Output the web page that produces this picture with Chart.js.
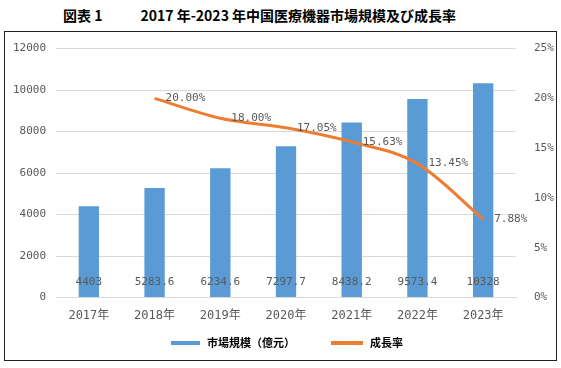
<!DOCTYPE html>
<html>
<head>
<meta charset="utf-8">
<script src="https://cdn.jsdelivr.net/npm/chart.js@4.4.1/dist/chart.umd.min.js"></script>
<style>
  body { margin: 0; background: #fff; width: 561px; height: 368px; position: relative; overflow: hidden; }
  #title { position: absolute; left: 63px; top: 5px; font-family: "Noto Sans CJK JP", sans-serif; font-weight: bold; font-size: 14px; color: #000; white-space: nowrap; }
  #title .gap { display: inline-block; width: 38px; }
  #box { position: absolute; left: 4px; top: 31px; width: 551px; height: 328px; border: 1px solid #222; }
  #box canvas { display: block; }
  .leg { position: absolute; top: 302px; font-family: "Noto Sans CJK JP", sans-serif; font-size: 11px; font-weight: bold; color: #000; white-space: nowrap; }
  .leg i { display: inline-block; width: 29px; height: 4px; vertical-align: middle; margin-right: 7px; position: relative; top: -1px; }
</style>
</head>
<body>
<div id="title">図表 1<span class="gap"></span>2017 年-2023 年中国医療機器市場規模及び成長率</div>
<div id="box">
  <canvas id="chart" width="551" height="328"></canvas>
  <div class="leg" style="left:166px"><i style="background:#5B9BD5"></i>市場規模（億元）</div>
  <div class="leg" style="left:326px"><i style="background:#ED7D31;width:32px"></i>成長率</div>
</div>
<script>
const categories = ['2017年', '2018年', '2019年', '2020年', '2021年', '2022年', '2023年'];
const marketSize = [4403, 5283.6, 6234.6, 7297.7, 8438.2, 9573.4, 10328];
const marketLabels = ['4403', '5283.6', '6234.6', '7297.7', '8438.2', '9573.4', '10328'];
const growthRate = [null, 20.00, 18.00, 17.05, 15.63, 13.45, 7.88];
const growthLabels = ['', '20.00%', '18.00%', '17.05%', '15.63%', '13.45%', '7.88%'];

const BLUE = '#5B9BD5';
const ORANGE = '#ED7D31';
const TEXT = '#595959';
const MONO = '"DejaVu Sans Mono", "Noto Sans CJK SC", monospace';

const valueLabels = {
  id: 'valueLabels',
  afterDatasetsDraw(chart) {
    const c = chart.ctx;
    const y0 = chart.scales.y.getPixelForValue(0);
    c.save();
    c.font = '11px ' + MONO;
    c.fillStyle = TEXT;
    c.textBaseline = 'middle';
    c.textAlign = 'center';
    chart.getDatasetMeta(0).data.forEach((bar, i) => {
      c.fillText(marketLabels[i], bar.x, y0 - 15);
    });
    c.textAlign = 'left';
    chart.getDatasetMeta(1).data.forEach((pt, i) => {
      if (growthRate[i] == null) return;
      c.fillText(growthLabels[i], pt.x + 11, pt.y);
    });
    c.restore();
  }
};

new Chart(document.getElementById('chart').getContext('2d'), {
  data: {
    labels: categories,
    datasets: [
      {
        type: 'bar',
        label: '市場規模（億元）',
        data: marketSize,
        backgroundColor: BLUE,
        borderWidth: 0,
        yAxisID: 'y',
        categoryPercentage: 1,
        barPercentage: 0.31,
        order: 2
      },
      {
        type: 'line',
        label: '成長率',
        data: growthRate,
        borderColor: ORANGE,
        backgroundColor: ORANGE,
        borderWidth: 3,
        pointRadius: 0,
        cubicInterpolationMode: 'monotone',
        yAxisID: 'y1',
        order: 1
      }
    ]
  },
  options: {
    responsive: false,
    animation: false,
    layout: { padding: { top: 14, left: 0, right: 0, bottom: 34 } },
    plugins: {
      tooltip: { enabled: false },
      legend: { display: false }
    },
    scales: {
      x: {
        grid: { display: false },
        border: { color: '#D9D9D9' },
        ticks: { color: TEXT, font: { family: MONO, size: 12 }, padding: 3 }
      },
      y: {
        position: 'left',
        min: 0,
        max: 12000,
        afterFit(axis) { axis.width = 51; },
        grid: { color: '#D9D9D9', drawTicks: false },
        border: { display: false },
        ticks: { stepSize: 2000, color: TEXT, font: { family: MONO, size: 11 }, padding: 10, callback: v => String(v) }
      },
      y1: {
        position: 'right',
        min: 0,
        max: 25,
        afterFit(axis) { axis.width = 40; },
        grid: { display: false },
        border: { display: false },
        ticks: { stepSize: 5, color: TEXT, font: { family: MONO, size: 11 }, padding: 10, callback: v => v + '%' }
      }
    }
  },
  plugins: [valueLabels]
});
</script>
</body>
</html>
